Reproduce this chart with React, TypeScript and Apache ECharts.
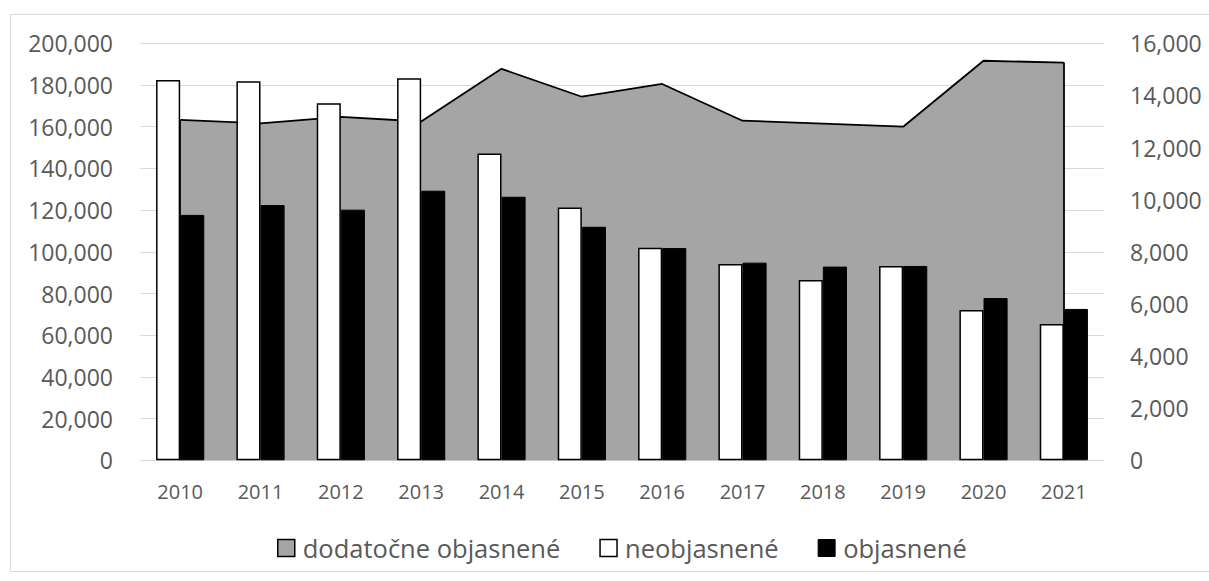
import React, { useEffect, useRef } from "react";
import * as echarts from "echarts";

const years = ["2010", "2011", "2012", "2013", "2014", "2015", "2016", "2017", "2018", "2019", "2020", "2021"];
const neobjasnene = [182400, 181800, 171200, 183200, 147200, 121300, 102000, 94200, 86500, 93200, 72100, 65400];
const objasnene = [117700, 122400, 120200, 129300, 126400, 112000, 101800, 94800, 92900, 93200, 77800, 72600];
const dodatocne = [13060, 12930, 13180, 13000, 15020, 13950, 14440, 13030, 12920, 12800, 15330, 15260];

const leftTicks = { min: 0, max: 200000, interval: 20000 };
const rightTicks = { min: 0, max: 16000, interval: 2000 };

const FONT = "'Open Sans', sans-serif";
const TXT = "#595959";
const fmt = (v: number) => v.toLocaleString("en-US");

export default function App() {
  const ref = useRef<HTMLDivElement>(null);
  useEffect(() => {
    if (!ref.current) return;
    const chart = echarts.init(ref.current, undefined, { renderer: "svg" });
    const last = years.length - 1;
    chart.setOption({
      animation: false,
      backgroundColor: "#ffffff",
      textStyle: { fontFamily: FONT },
      graphic: [
        {
          type: "rect",
          shape: { x: 10.5, y: 14.5, width: 1220, height: 557 },
          style: { fill: "none", stroke: "#d9d9d9", lineWidth: 1 },
          silent: true,
          z: -10,
        },
      ],
      grid: { left: 140, right: 105, top: 43.3, bottom: 120.7 },
      legend: {
        left: 272,
        top: 530,
        itemWidth: 17,
        itemHeight: 17,
        itemGap: 39,
        icon: "rect",
        textStyle: { fontFamily: FONT, fontSize: 25.5, color: TXT, padding: [0, 0, 0, 3] },
        data: [
          { name: "dodatočne objasnené", itemStyle: { color: "#a5a5a5", borderColor: "#000", borderWidth: 1.5 } },
          { name: "neobjasnené", itemStyle: { color: "#ffffff", borderColor: "#000", borderWidth: 1.5 } },
          { name: "objasnené", itemStyle: { color: "#000000", borderColor: "#000", borderWidth: 1 } },
        ],
      },
      xAxis: {
        type: "category",
        data: years,
        boundaryGap: true,
        axisLine: { show: true, lineStyle: { color: "#d9d9d9", width: 1 } },
        axisTick: { show: false },
        axisLabel: { color: TXT, fontSize: 20, fontFamily: FONT, margin: 21 },
      },
      yAxis: [
        {
          type: "value",
          ...leftTicks,
          axisLine: { show: false },
          axisTick: { show: false },
          splitLine: { show: true, lineStyle: { color: "#d9d9d9", width: 1 } },
          axisLabel: { color: TXT, fontSize: 23, fontFamily: FONT, margin: 27, formatter: fmt },
        },
        {
          type: "value",
          position: "right",
          ...rightTicks,
          axisLine: { show: false },
          axisTick: { show: false },
          splitLine: { show: false },
          axisLabel: { color: TXT, fontSize: 23, fontFamily: FONT, margin: 26, formatter: fmt },
        },
      ],
      series: [
        {
          name: "dodatočne objasnené",
          type: "line",
          yAxisIndex: 1,
          data: dodatocne,
          symbol: "none",
          z: 1,
          lineStyle: { color: "#000", width: 1.8 },
          itemStyle: { color: "#a5a5a5" },
          areaStyle: { color: "#a5a5a5", opacity: 1 },
          markLine: {
            silent: true,
            symbol: ["none", "none"],
            label: { show: false },
            lineStyle: { color: "#000", width: 1.8, type: "solid" },
            data: [
              [{ coord: [years[0], 0] }, { coord: [years[0], dodatocne[0]] }],
              [{ coord: [years[last], 0] }, { coord: [years[last], dodatocne[last]] }],
            ],
          },
        },
        {
          name: "neobjasnené",
          type: "bar",
          data: neobjasnene,
          z: 3,
          barGap: "0%",
          barCategoryGap: "40%",
          itemStyle: { color: "#ffffff", borderColor: "#000", borderWidth: 1.5 },
        },
        {
          name: "objasnené",
          type: "bar",
          data: objasnene,
          z: 3,
          barGap: "0%",
          barCategoryGap: "40%",
          itemStyle: { color: "#000000", borderColor: "#000", borderWidth: 1 },
        },
      ],
    });
    return () => chart.dispose();
  }, []);
  return (
    <div style={{ position: "fixed", left: 0, top: 0, width: 1209, height: 581, background: "#fff" }}>
      <div ref={ref} style={{ width: 1209, height: 581 }} />
    </div>
  );
}
